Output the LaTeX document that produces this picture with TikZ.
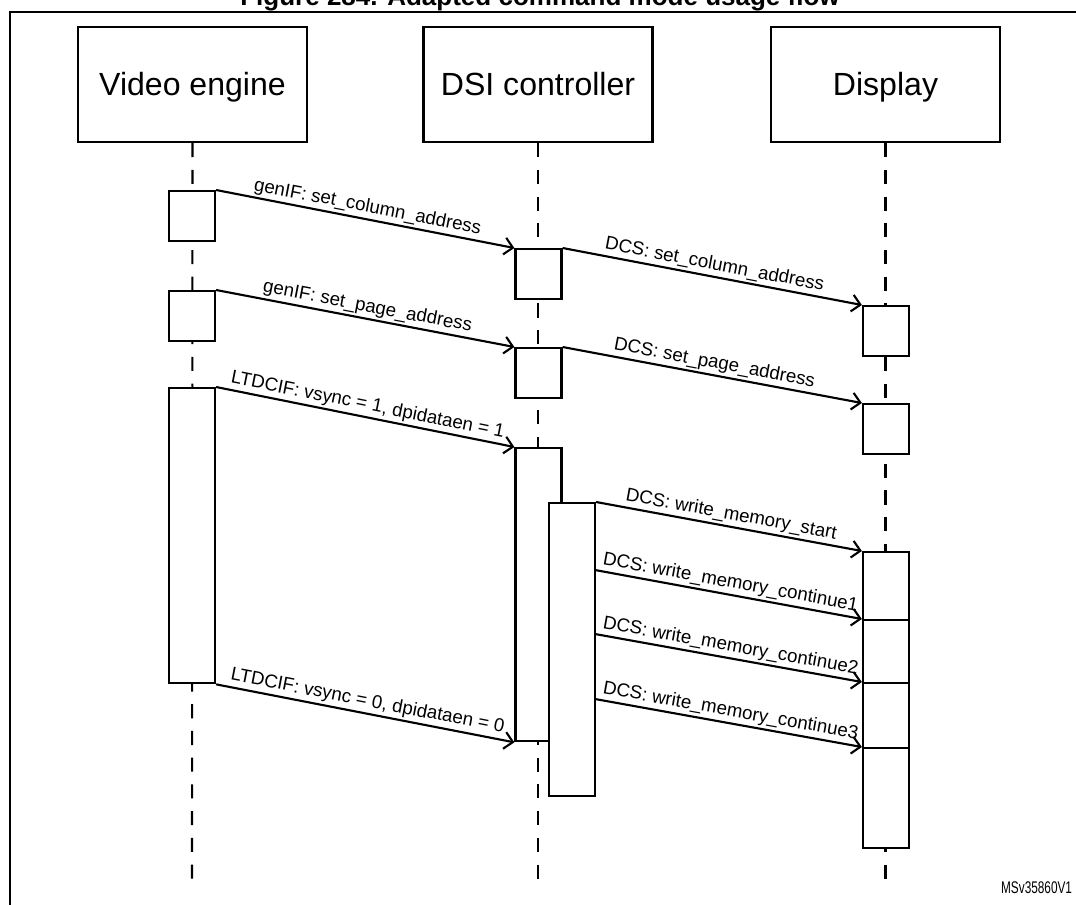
\documentclass[tikz,border=0pt]{standalone}
\usepackage{fontspec}
\setmainfont{Liberation Sans}
\usetikzlibrary{arrows.meta,positioning}

\begin{document}
\begin{tikzpicture}[x=0.025cm, y=-0.025cm, >={Straight Barb[length=6pt,width=12pt]},
  actor/.style={draw, line width=1.6pt, minimum width=5.725cm, minimum height=2.875cm, inner sep=0pt, text height=18.5pt, text depth=3.5pt, font=\fontsize{22.8}{26}\selectfont},
  act/.style={draw, line width=1.6pt, fill=white, minimum width=1.15cm, inner sep=0pt, anchor=north},
  life/.style={line width=1.5pt, dash pattern=on 10pt off 9pt},
  msg/.style={->, line width=1.5pt},
  lbl/.style={midway, above, sloped, inner sep=1.5pt, font=\fontsize{13.3}{15}\selectfont}]
  \useasboundingbox (0,0) rectangle (1076,904);

  % frame and title
  \draw[line width=1.6pt] (10,910) -- (10,12) -- (1090,12);
  \node[anchor=base, font=\bfseries\fontsize{18.5}{20}\selectfont] (title) at (540,5) {Figure 284. Adapted command mode usage flow};
  \node[anchor=base east, font=\fontsize{12}{14}\selectfont] (ref) at (1077,893) {\scalebox{0.7}[1]{MSv35860V1}};

  % actors
  \node[actor] (ve) at (192.5,84.5) {Video engine};
  \node[actor] (dc) at (538,84.5) {DSI controller};
  \node[actor] (dp) at (885.5,84.5) {Display};

  % lifelines
  \coordinate (veend) at (192,880);
  \coordinate (dcend) at (538,880);
  \coordinate (dpend) at (885.5,880);
  \draw[life] (ve.south) -- (veend);
  \draw[life] (dc.south) -- (dcend);
  \draw[life] (dp.south) -- (dpend);

  % activations
  \node[act, minimum height=1.25cm] (ve1) at (192,190) {};
  \node[act, minimum height=1.25cm] (ve2) at (192,290) {};
  \node[act, minimum height=7.375cm] (ve3) at (192,387) {};

  \node[act, minimum height=1.25cm] (dc1) at (538.5,248) {};
  \node[act, minimum height=1.25cm] (dc2) at (538.5,347) {};
  \node[act, minimum height=7.325cm] (dc3) at (538.5,447) {};
  \node[act, minimum height=7.325cm] (dc4) at (572,502) {};

  \node[act, minimum height=1.25cm] (dp1) at (886,305) {};
  \node[act, minimum height=1.25cm] (dp2) at (886,403) {};
  \node[act, minimum height=1.7cm] (dp3) at (886,551) {};
  \node[act, minimum height=1.575cm] (dp4) at (886,619) {};
  \node[act, minimum height=1.625cm] (dp5) at (886,682) {};
  \node[act, minimum height=2.5cm] (dp6) at (886,747) {};

  % messages
  \draw[msg] (ve1.north east) -- (dc1.north west) node[lbl] {genIF: set\_column\_address};
  \draw[msg] (dc1.north east) -- (dp1.north west) node[lbl] {DCS: set\_column\_address};
  \draw[msg] (ve2.north east) -- (dc2.north west) node[lbl] {genIF: set\_page\_address};
  \draw[msg] (dc2.north east) -- (dp2.north west) node[lbl] {DCS: set\_page\_address};
  \draw[msg] (ve3.north east) -- (dc3.north west) node[lbl] {LTDCIF: vsync = 1, dpidataen = 1};
  \draw[msg] (ve3.south east) -- (dc3.south west) node[lbl] {LTDCIF: vsync = 0, dpidataen = 0};

  \coordinate (w1) at (595,570);
  \coordinate (w2) at (595,634);
  \coordinate (w3) at (595,699);
  \draw[msg] (dc4.north east) -- (dp3.north west) node[lbl] {DCS: write\_memory\_start};
  \draw[msg] (w1) -- (dp4.north west) node[lbl] {DCS: write\_memory\_continue1};
  \draw[msg] (w2) -- (dp5.north west) node[lbl] {DCS: write\_memory\_continue2};
  \draw[msg] (w3) -- (dp6.north west) node[lbl] {DCS: write\_memory\_continue3};
\end{tikzpicture}
\end{document}
